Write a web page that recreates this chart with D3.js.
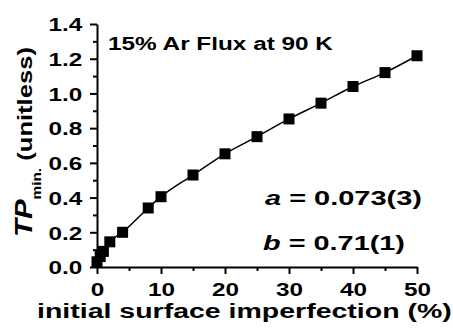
<!DOCTYPE html>
<html>
<head>
<meta charset="utf-8">
<script src="https://cdn.jsdelivr.net/npm/d3@7"></script>
<style>
  body { margin: 0; background: #fff; }
  text { font-family: "Liberation Sans", Arial, sans-serif; font-weight: bold; fill: #000; }
</style>
</head>
<body>
<script>
var W = 453, H = 330;

// data
var imperfection = [0, 0.5, 1, 2, 4, 8, 10, 15, 20, 25, 30, 35, 40, 45, 50];
var tpMin = [0.03, 0.06, 0.09, 0.145, 0.2, 0.34, 0.405, 0.53, 0.652, 0.751, 0.853, 0.944, 1.04, 1.12, 1.217];
var xTicks = [0, 10, 20, 30, 40, 50],
    xMinor = [5, 15, 25, 35, 45],
    yTicks = [0, 0.2, 0.4, 0.6, 0.8, 1.0, 1.2, 1.4],
    yMinor = [0.1, 0.3, 0.5, 0.7, 0.9, 1.1, 1.3];

var sx = 1.28; // the original lettering is stretched sideways

var svg = d3.select("body").append("svg")
    .attr("width", W).attr("height", H);

var x = d3.scaleLinear().domain([0, 50]).range([97, 417]),
    y = d3.scaleLinear().domain([0, 1.4]).range([267, 24]);

// minor ticks first
svg.append("g").attr("transform", "translate(0," + y(0) + ")")
    .call(d3.axisBottom(x).tickValues(xMinor).tickSize(4).tickFormat(""))
    .call(function (g) { g.select(".domain").remove(); });
svg.append("g").attr("transform", "translate(" + x(0) + ",0)")
    .call(d3.axisLeft(y).tickValues(yMinor).tickSize(4).tickFormat(""))
    .call(function (g) { g.select(".domain").remove(); });

var xAxis = svg.append("g").attr("transform", "translate(0," + y(0) + ")")
    .call(d3.axisBottom(x).tickValues(xTicks).tickSize(7).tickSizeOuter(0).tickPadding(4));
xAxis.selectAll("text")
    .style("font-size", "19px")
    .attr("transform", "scale(" + sx + ",1)")
    .attr("dy", "0.93em");

var yAxis = svg.append("g").attr("transform", "translate(" + x(0) + ",0)")
    .call(d3.axisLeft(y).tickValues(yTicks).tickSize(7).tickSizeOuter(0).tickFormat(d3.format(".1f")));
yAxis.selectAll("text")
    .style("font-size", "19px")
    .attr("x", -11.5)
    .attr("dy", "0.36em")
    .attr("transform", "scale(" + sx + ",1)");

svg.selectAll(".domain, .tick line")
    .attr("stroke", "#000").attr("stroke-width", 2);
svg.selectAll(".tick text").attr("fill", "#000");

// curve and markers
var pts = imperfection.map(function (d, i) { return [d, tpMin[i]]; });
svg.append("path")
    .datum(pts)
    .attr("fill", "none").attr("stroke", "#000").attr("stroke-width", 1.5)
    .attr("d", d3.line().x(function (d) { return x(d[0]); }).y(function (d) { return y(d[1]); })
        .curve(d3.curveMonotoneX));

svg.selectAll("rect.pt").data(pts).enter().append("rect")
    .attr("class", "pt")
    .attr("x", function (d) { return x(d[0]) - 5.5; })
    .attr("y", function (d) { return y(d[1]) - 5.5; })
    .attr("width", 11).attr("height", 11)
    .attr("fill", "#000");

// text helper: stretch a text to a target width
function fit(sel, left, base, width) {
    var len = sel.node().getComputedTextLength();
    sel.attr("transform", "translate(" + left + "," + base + ") scale(" + (width / len) + ",1)");
    return sel;
}

var title = svg.append("text").style("font-size", "19px").text("15% Ar Flux at 90 K");
fit(title, 108, 50, 225);

var xt = svg.append("text").style("font-size", "20px").text("initial surface imperfection (%)");
fit(xt, 37, 318, 415);

var ta = svg.append("text").style("font-size", "21px");
ta.append("tspan").style("font-style", "italic").text("a");
ta.append("tspan").text(" = 0.073(3)");
fit(ta, 265, 205, 157);

var tb = svg.append("text").style("font-size", "21px");
tb.append("tspan").style("font-style", "italic").text("b");
tb.append("tspan").text(" = 0.71(1)");
fit(tb, 263, 250, 142);

// y title, rotated
var yt = svg.append("text").style("font-size", "20px");
yt.append("tspan").style("font-style", "italic").style("font-size", "23px").text("TP");
yt.append("tspan").style("font-size", "12px").attr("dy", 9).text("min.");
yt.append("tspan").attr("dy", -9).text(" (unitless)");
var ylen = yt.node().getComputedTextLength();
yt.attr("transform", "translate(32,237) rotate(-90) scale(" + (190 / ylen) + ",1)");
</script>
</body>
</html>
